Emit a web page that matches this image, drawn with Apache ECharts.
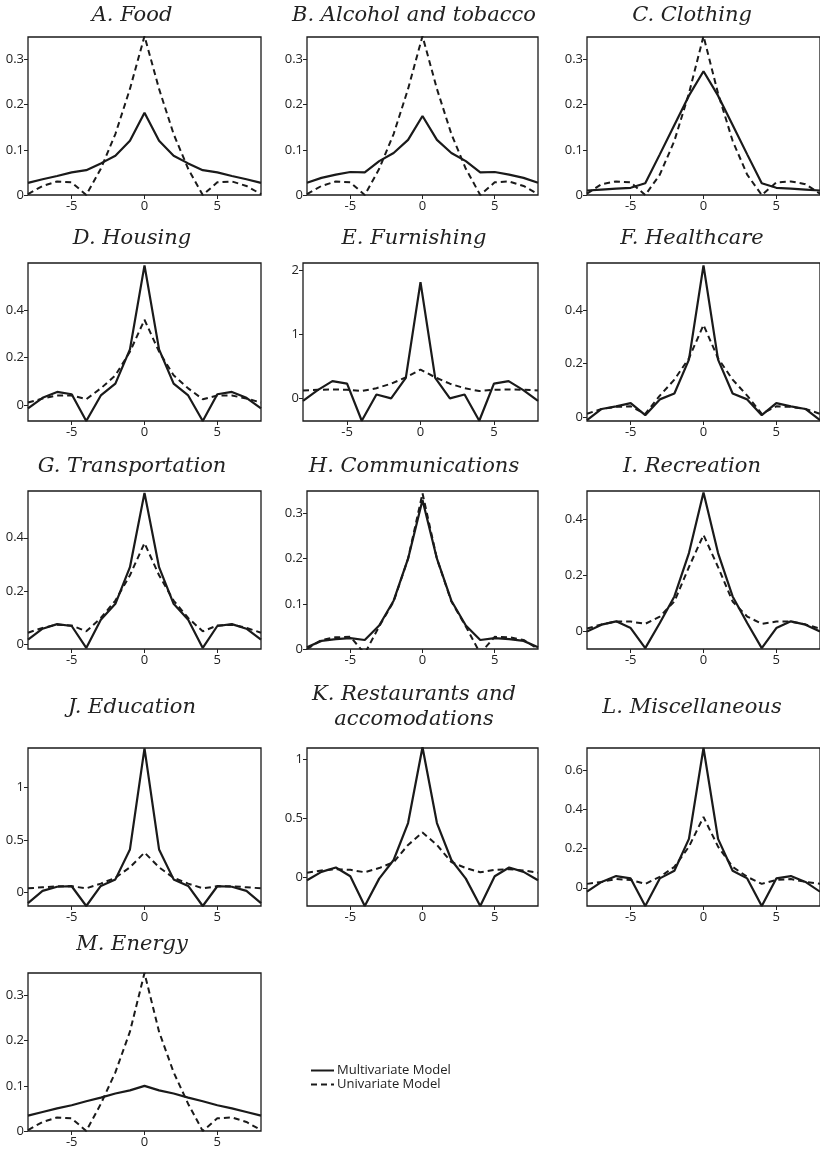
<!DOCTYPE html>
<html>
<head>
<meta charset="utf-8">
<script src="https://cdn.jsdelivr.net/npm/echarts@6/dist/echarts.min.js"></script>
<style>
  html, body { margin: 0; padding: 0; background: #fff; }
  #chart { width: 820px; height: 1159px; }
</style>
</head>
<body>
<div id="chart"></div>
<script>
// lags (quarters) on the x axis
var lags = [-8, -7, -6, -5, -4, -3, -2, -1, 0, 1, 2, 3, 4, 5, 6, 7, 8];
var xTicks = [-5, 0, 5];

// solid = multivariate, dashed = univariate
var foodMulti = [0.027, 0.035, 0.042, 0.05, 0.055, 0.07, 0.087, 0.12, 0.182, 0.12, 0.087, 0.07, 0.055, 0.05, 0.042, 0.035, 0.027];
var foodUni = [0.002, 0.02, 0.03, 0.028, 0, 0.058, 0.135, 0.235, 0.352, 0.235, 0.135, 0.058, 0, 0.028, 0.03, 0.02, 0.002];
var alcoholMulti = [0.027, 0.038, 0.045, 0.051, 0.05, 0.075, 0.093, 0.122, 0.175, 0.122, 0.093, 0.075, 0.05, 0.051, 0.045, 0.038, 0.027];
var alcoholUni = [0.002, 0.02, 0.03, 0.028, 0, 0.058, 0.135, 0.235, 0.352, 0.235, 0.135, 0.058, 0, 0.028, 0.03, 0.02, 0.002];
var clothingMulti = [0.01, 0.012, 0.014, 0.016, 0.026, 0.09, 0.155, 0.22, 0.274, 0.22, 0.155, 0.09, 0.026, 0.016, 0.014, 0.012, 0.01];
var clothingUni = [0.003, 0.024, 0.03, 0.028, 0, 0.045, 0.12, 0.225, 0.352, 0.225, 0.12, 0.045, 0, 0.028, 0.03, 0.024, 0.003];
var housingMulti = [-0.015, 0.03, 0.055, 0.045, -0.068, 0.04, 0.09, 0.235, 0.59, 0.235, 0.09, 0.04, -0.068, 0.045, 0.055, 0.03, -0.015];
var housingUni = [0.01, 0.027, 0.04, 0.04, 0.024, 0.07, 0.125, 0.225, 0.36, 0.225, 0.125, 0.07, 0.024, 0.04, 0.04, 0.027, 0.01];
var furnishingMulti = [-0.04, 0.13, 0.27, 0.23, -0.35, 0.06, 0, 0.32, 1.82, 0.32, 0, 0.06, -0.35, 0.23, 0.27, 0.13, -0.04];
var furnishingUni = [0.125, 0.135, 0.14, 0.135, 0.115, 0.16, 0.23, 0.33, 0.45, 0.33, 0.23, 0.16, 0.115, 0.135, 0.14, 0.135, 0.125];
var healthMulti = [-0.012, 0.03, 0.04, 0.052, 0.007, 0.066, 0.088, 0.215, 0.568, 0.215, 0.088, 0.066, 0.007, 0.052, 0.04, 0.03, -0.012];
var healthUni = [0.012, 0.03, 0.038, 0.04, 0.012, 0.08, 0.14, 0.22, 0.345, 0.22, 0.14, 0.08, 0.012, 0.04, 0.038, 0.03, 0.012];
var transportMulti = [0.019, 0.06, 0.077, 0.07, -0.012, 0.093, 0.153, 0.29, 0.568, 0.29, 0.153, 0.093, -0.012, 0.07, 0.077, 0.06, 0.019];
var transportUni = [0.045, 0.063, 0.075, 0.072, 0.05, 0.1, 0.165, 0.26, 0.38, 0.26, 0.165, 0.1, 0.05, 0.072, 0.075, 0.063, 0.045];
var commMulti = [0.004, 0.018, 0.022, 0.024, 0.02, 0.052, 0.107, 0.2, 0.33, 0.2, 0.107, 0.052, 0.02, 0.024, 0.022, 0.018, 0.004];
var commUni = [0, 0.02, 0.026, 0.027, -0.01, 0.05, 0.105, 0.2, 0.345, 0.2, 0.105, 0.05, -0.01, 0.027, 0.026, 0.02, 0];
var recMulti = [0, 0.024, 0.036, 0.012, -0.06, 0.03, 0.125, 0.28, 0.497, 0.28, 0.125, 0.03, -0.06, 0.012, 0.036, 0.024, 0];
var recUni = [0.01, 0.025, 0.035, 0.035, 0.027, 0.053, 0.107, 0.23, 0.345, 0.23, 0.107, 0.053, 0.027, 0.035, 0.035, 0.025, 0.01];
var eduMulti = [-0.1, 0.016, 0.055, 0.06, -0.128, 0.063, 0.125, 0.41, 1.37, 0.41, 0.125, 0.063, -0.128, 0.06, 0.055, 0.016, -0.1];
var eduUni = [0.04, 0.05, 0.06, 0.06, 0.04, 0.085, 0.14, 0.24, 0.38, 0.24, 0.14, 0.085, 0.04, 0.06, 0.06, 0.05, 0.04];
var restMulti = [-0.023, 0.048, 0.085, 0.011, -0.24, -0.009, 0.148, 0.46, 1.1, 0.46, 0.148, -0.009, -0.24, 0.011, 0.085, 0.048, -0.023];
var restUni = [0.04, 0.06, 0.07, 0.065, 0.045, 0.08, 0.13, 0.275, 0.38, 0.275, 0.13, 0.08, 0.045, 0.065, 0.07, 0.06, 0.04];
var miscMulti = [-0.02, 0.03, 0.06, 0.048, -0.093, 0.048, 0.087, 0.25, 0.714, 0.25, 0.087, 0.048, -0.093, 0.048, 0.06, 0.03, -0.02];
var miscUni = [0.02, 0.03, 0.045, 0.04, 0.02, 0.056, 0.107, 0.21, 0.362, 0.21, 0.107, 0.056, 0.02, 0.04, 0.045, 0.03, 0.02];
var energyMulti = [0.034, 0.042, 0.05, 0.057, 0.066, 0.074, 0.083, 0.09, 0.1, 0.09, 0.083, 0.074, 0.066, 0.057, 0.05, 0.042, 0.034];
var energyUni = [0.002, 0.02, 0.03, 0.028, 0, 0.06, 0.13, 0.22, 0.35, 0.22, 0.13, 0.06, 0, 0.028, 0.03, 0.02, 0.002];

// panel titles, y ranges and y tick labels
var titles = ['A. Food', 'B. Alcohol and tobacco', 'C. Clothing', 'D. Housing', 'E. Furnishing',
  'F. Healthcare', 'G. Transportation', 'H. Communications', 'I. Recreation', 'J. Education',
  'K. Restaurants and\naccomodations', 'L. Miscellaneous', 'M. Energy'];
var yMins = [0, 0, 0, -0.068, -0.354, -0.015, -0.016, 0, -0.063, -0.128, -0.24, -0.093, 0];
var yMaxs = [0.35, 0.35, 0.35, 0.6, 2.12, 0.577, 0.575, 0.35, 0.502, 1.374, 1.093, 0.714, 0.35];
var yTicks = [
  [0, 0.1, 0.2, 0.3], [0, 0.1, 0.2, 0.3], [0, 0.1, 0.2, 0.3],
  [0, 0.2, 0.4], [0, 1, 2], [0, 0.2, 0.4],
  [0, 0.2, 0.4], [0, 0.1, 0.2, 0.3], [0, 0.2, 0.4],
  [0, 0.5, 1], [0, 0.5, 1], [0, 0.2, 0.4, 0.6],
  [0, 0.1, 0.2, 0.3]
];
var multiSeries = [foodMulti, alcoholMulti, clothingMulti, housingMulti, furnishingMulti, healthMulti,
  transportMulti, commMulti, recMulti, eduMulti, restMulti, miscMulti, energyMulti];
var uniSeries = [foodUni, alcoholUni, clothingUni, housingUni, furnishingUni, healthUni,
  transportUni, commUni, recUni, eduUni, restUni, miscUni, energyUni];

// layout of the grid of small panels
var colLeft = [28, 307, 587];
var colRight = [261, 538, 820];
var colTitleX = [132, 414, 692];
var rowTop = [37, 263, 491, 748, 973];
var rowTitleY = [14, 237, 465, 706, 943];
var panelH = 158;

var chart = echarts.init(document.getElementById('chart'));

var grids = [], xAxes = [], yAxes = [], series = [], titleList = [];
var tickFont = { fontFamily: 'Open Sans', fontSize: 13, color: '#222' };

for (var i = 0; i < titles.length; i++) {
  var col = i % 3, row = Math.floor(i / 3);
  var left = colLeft[col];
  if (i === 4) left = 303;
  grids.push({
    left: left, top: rowTop[row], width: colRight[col] - left, height: panelH,
    show: true, borderColor: '#1a1a1a', borderWidth: 1.3, backgroundColor: 'transparent'
  });
  xAxes.push({
    type: 'value', gridIndex: i, min: -8, max: 8,
    splitLine: { show: false }, axisLine: { show: false, onZero: false },
    axisTick: { show: true, length: 4, lineStyle: { color: '#222' }, customValues: xTicks },
    axisLabel: Object.assign({ margin: 5, customValues: xTicks }, tickFont)
  });
  yAxes.push({
    type: 'value', gridIndex: i, min: yMins[i], max: yMaxs[i],
    splitLine: { show: false }, axisLine: { show: false, onZero: false },
    axisTick: { show: true, length: 4, lineStyle: { color: '#222' }, customValues: yTicks[i] },
    axisLabel: Object.assign({ margin: 4, customValues: yTicks[i] }, tickFont)
  });
  var multi = multiSeries[i], uni = uniSeries[i];
  series.push({
    name: 'Multivariate Model', type: 'line', xAxisIndex: i, yAxisIndex: i,
    data: lags.map(function (l, k) { return [l, multi[k]]; }),
    symbol: 'none', lineStyle: { color: '#1a1a1a', width: 2.2 }, itemStyle: { color: '#1a1a1a' },
    animation: false
  });
  series.push({
    name: 'Univariate Model', type: 'line', xAxisIndex: i, yAxisIndex: i,
    data: lags.map(function (l, k) { return [l, uni[k]]; }),
    symbol: 'none', lineStyle: { color: '#1a1a1a', width: 2, type: [6, 4] }, itemStyle: { color: '#1a1a1a' },
    animation: false
  });
  var twoLine = titles[i].indexOf('\n') >= 0;
  titleList.push({
    text: titles[i], left: colTitleX[col], top: rowTitleY[row] - (twoLine ? 24 : 11),
    textAlign: 'center', padding: 0,
    textStyle: { fontFamily: 'DejaVu Serif', fontStyle: 'italic', fontWeight: 'normal',
      fontSize: 21, color: '#222', lineHeight: 25 }
  });
}

chart.setOption({
  animation: false,
  title: titleList,
  legend: {
    data: ['Multivariate Model', 'Univariate Model'],
    orient: 'vertical', left: 305, top: 1059, itemGap: 1,
    itemWidth: 23, itemHeight: 14,
    itemStyle: { color: 'transparent', borderColor: 'transparent', borderWidth: 0, opacity: 0 },
    textStyle: { fontFamily: 'Open Sans', fontSize: 13, color: '#222', padding: [0, 0, 0, -2] }
  },
  grid: grids,
  xAxis: xAxes,
  yAxis: yAxes,
  series: series
});
</script>
</body>
</html>
